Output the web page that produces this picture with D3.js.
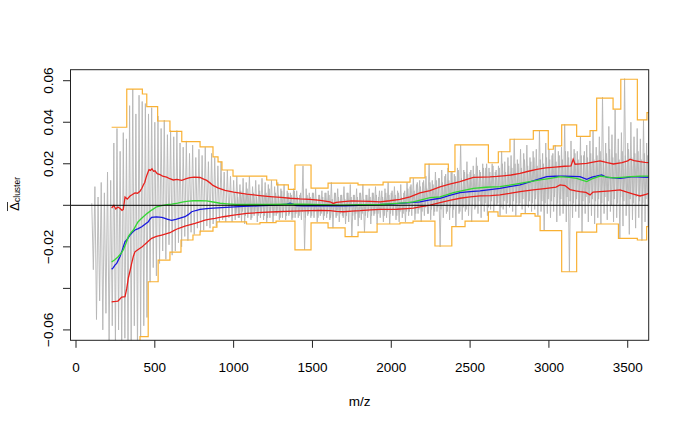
<!DOCTYPE html>
<html><head><meta charset="utf-8">
<script src="https://cdn.jsdelivr.net/npm/d3@7"></script>
<style>body{margin:0;background:#fff} text{font-family:"Liberation Sans",Arial,Helvetica,sans-serif;fill:#000}</style>
</head><body><svg id="c" width="685" height="428"></svg>
<script>
const xTicks=[0,500,1000,1500,2000,2500,3000,3500];
const xTickLabels=["0","500","1000","1500","2000","2500","3000","3500"];
const yTicks=[-0.06,-0.04,-0.02,0,0.02,0.04,0.06];
const yTickLabels=["\u22120.06","","\u22120.02","","0.02","0.04","0.06"];
const xTitle="m/z";
const yTitleMain="\u0394", yTitleSub="cluster";

// gray cluster series (spikes): sampled every 20 m/z from 100, high value at mz, low value at mz+10
const grayMz=d3.range(100,3641,20);
const grayHigh=[0.001,0.009,0.004,0.011,0.006,0.016,0.012,
0.030,0.037,0.026,0.035,0.032,
0.048,0.056,0.044,0.053,0.050,
0.049,
0.044,0.047,0.040,0.043,
0.037,0.041,0.034,0.036,
0.033,0.036,0.030,
0.028,0.031,0.025,0.029,0.023,0.027,
0.024,0.028,0.021,0.025,
0.023,0.019,0.021,0.016,0.017,0.014,
0.012,0.014,0.010,0.013,0.011,0.014,0.009,0.012,0.010,0.013,0.011,
0.010,0.012,0.009,0.011,
0.008,0.010,0.007,
0.006,0.008,
0.007,0.005,0.019,0.008,0.006,
0.006,0.008,0.005,0.007,0.006,
0.007,0.011,0.006,0.008,0.005,0.009,
0.006,0.010,0.005,0.008,
0.006,0.010,0.005,0.008,0.006,0.009,0.004,0.007,
0.008,0.011,0.006,0.009,0.007,0.010,0.006,0.011,
0.009,0.013,0.010,0.012,0.011,
0.014,0.020,0.012,0.016,0.013,0.017,0.014,0.018,
0.016,0.015,0.018,0.029,0.017,0.021,0.016,0.019,0.023,0.017,0.020,0.018,
0.018,0.020,0.016,0.019,0.026,0.021,0.023,
0.024,0.032,0.022,0.027,0.025,0.029,0.023,0.026,
0.027,0.036,0.025,0.030,
0.027,0.024,0.029,0.026,
0.028,0.039,0.026,0.031,0.027,
0.026,0.033,0.024,0.029,0.031,
0.036,0.028,
0.033,0.052,0.030,0.038,0.034,
0.046,0.032,
0.035,0.061,0.030,0.040,0.033,0.037,
0.032,0.041,0.030,0.045];
const grayLow=[-0.031,-0.055,-0.046,-0.060,-0.052,-0.066,-0.058,
-0.068,-0.060,-0.072,-0.064,-0.070,
-0.066,-0.058,-0.071,
-0.063,-0.058,-0.054,
-0.037,-0.030,-0.034,-0.028,
-0.022,-0.026,-0.019,-0.024,
-0.022,-0.018,-0.020,
-0.015,-0.017,-0.013,-0.014,-0.011,-0.013,
-0.012,-0.010,-0.011,-0.009,
-0.010,-0.008,-0.007,-0.008,-0.006,-0.008,
-0.007,-0.006,-0.008,-0.009,-0.006,-0.007,-0.005,-0.008,-0.006,-0.007,-0.008,
-0.006,-0.008,-0.005,-0.007,
-0.006,-0.007,-0.005,
-0.007,-0.006,
-0.006,-0.007,-0.0215,-0.005,-0.006,
-0.006,-0.008,-0.005,-0.007,-0.006,
-0.007,-0.011,-0.006,-0.008,-0.005,-0.009,
-0.008,-0.015,-0.007,-0.010,
-0.007,-0.013,-0.006,-0.009,-0.005,-0.009,-0.006,-0.008,
-0.006,-0.009,-0.005,-0.007,-0.008,-0.006,-0.008,-0.005,
-0.005,-0.007,-0.004,-0.008,-0.005,
-0.004,-0.007,-0.005,-0.003,-0.020,-0.006,-0.004,-0.007,
-0.006,-0.010,-0.004,-0.007,-0.003,-0.005,-0.008,-0.002,-0.004,-0.006,-0.003,-0.005,
-0.002,-0.003,0.000,-0.005,-0.002,-0.004,-0.001,
-0.003,-0.005,0.000,-0.002,-0.004,-0.001,-0.003,-0.002,
-0.005,-0.003,-0.012,-0.004,
-0.006,-0.003,-0.008,-0.005,
-0.004,-0.008,-0.032,-0.006,-0.003,
-0.006,-0.013,-0.004,-0.008,-0.005,
-0.009,-0.006,
-0.009,-0.004,-0.007,-0.003,-0.008,
-0.006,-0.016,
-0.010,-0.005,-0.014,-0.007,-0.011,-0.006,
-0.017,-0.008,-0.010,-0.006];

// gray cluster series (dense core): every 20 m/z from 1005, high at mz, low at mz+10
const grayCoreMz=d3.range(1005,3646,20);
const grayCoreHigh=[0.006,0.004,0.007,0.005,0.008,0.005,0.006,0.004,0.007,0.005,0.006,0.008,0.004,0.006,0.005,0.007,0.004,0.006,0.005,0.007,
0.004,0.006,0.003,0.005,0.004,0.006,0.003,0.005,0.004,0.006,0.005,0.003,0.006,0.004,0.005,0.003,0.006,0.004,0.005,0.004,0.006,0.003,0.005,0.004,0.006,
0.005,0.007,0.004,0.006,0.005,0.007,0.005,0.006,0.004,0.007,
0.008,0.010,0.007,0.011,0.009,0.012,0.008,0.011,0.010,0.012,
0.013,0.011,0.015,0.012,0.016,0.014,0.017,0.013,0.016,0.015,
0.017,0.015,0.019,0.016,0.018,0.020,0.016,0.019,0.017,0.018,0.020,0.016,0.019,0.018,0.020,
0.020,0.018,0.022,0.019,0.021,0.023,0.019,0.022,0.020,0.023,
0.022,0.025,0.021,0.024,0.022,0.026,0.023,0.021,0.025,0.022,0.024,0.026,0.023,0.025,0.022,
0.024,0.026,0.022,0.025,0.027,0.023,0.025,0.022,0.026,0.024,0.027,0.023,0.025,0.026,0.022,0.025,0.024,0.026];
const grayCoreLow=[-0.004,-0.006,-0.003,-0.005,-0.004,-0.006,-0.003,-0.005,-0.004,-0.005,-0.006,-0.003,-0.005,-0.004,-0.006,-0.003,-0.005,-0.004,-0.006,-0.004,
-0.005,-0.003,-0.006,-0.004,-0.005,-0.003,-0.006,-0.004,-0.005,-0.004,-0.006,-0.003,-0.005,-0.004,-0.006,-0.005,-0.003,-0.005,-0.004,-0.006,-0.004,-0.005,-0.003,-0.005,-0.004,
-0.004,-0.002,-0.005,-0.003,-0.004,-0.002,-0.005,-0.003,-0.004,-0.003,
-0.003,-0.001,-0.004,-0.002,-0.003,-0.001,-0.004,-0.002,-0.003,-0.001,
-0.002,0.000,-0.003,-0.001,-0.002,0.000,-0.003,-0.001,-0.002,0.000,
0.000,-0.001,0.002,0.000,0.001,-0.001,0.002,0.000,0.001,-0.001,0.002,0.001,0.000,0.002,0.001,
0.001,0.003,0.000,0.002,0.001,0.003,0.000,0.002,0.001,0.003,
0.002,0.004,0.001,0.003,0.000,0.004,0.002,0.001,0.003,0.000,0.002,0.004,0.001,0.003,0.002,
0.003,0.001,0.004,0.002,0.000,0.003,0.001,0.004,0.002,0.000,0.003,0.001,0.004,0.002,0.001,0.003,0.000,0.002];

// orange window envelopes (step functions: [start m/z, value])
const orangeUpper=[[226,0.0376],[322,0.0559],[421,0.0536],[449,0.0475],[518,0.0406],[596,0.0356],[671,0.0307],[787,0.0281],[869,0.0233],[901,0.0209],[926,0.0170],[996,0.0141],[1210,0.0122],[1273,0.0098],[1347,0.0077],[1389,0.0194],[1491,0.0083],[1599,0.0107],[1789,0.0098],[1948,0.0112],[2119,0.0132],[2214,0.0198],[2362,0.0162],[2404,0.0291],[2616,0.0205],[2679,0.0258],[2753,0.0318],[2901,0.0360],[2996,0.0270],[3028,0.0286],[3081,0.0387],[3176,0.0332],[3261,0.0360],[3303,0.0516],[3407,0.0463],[3456,0.0607],[3561,0.0411],[3622,0.0446],[3660,0.0446]];
const orangeLower=[[226,-0.080],[406,-0.0632],[458,-0.0368],[521,-0.0264],[596,-0.0225],[666,-0.0167],[742,-0.0143],[787,-0.0124],[869,-0.0105],[894,-0.0080],[1082,-0.0090],[1167,-0.0083],[1269,-0.0076],[1389,-0.0215],[1491,-0.0085],[1599,-0.0109],[1707,-0.0151],[1789,-0.0129],[1910,-0.0090],[2055,-0.0085],[2138,-0.0076],[2277,-0.0196],[2384,-0.0103],[2468,-0.0076],[2616,-0.0032],[2677,-0.0052],[2823,-0.0040],[2912,-0.0052],[2944,-0.0122],[3081,-0.0320],[3176,-0.0129],[3303,-0.0090],[3441,-0.0159],[3561,-0.0167],[3620,-0.0103],[3660,-0.0103]];

const redUpper=[[226,-0.0013],[240,0.0000],[252,-0.0018],[266,-0.0008],[280,-0.0015],[292,-0.0024],[300,-0.0020],[311,0.0040],[325,0.0030],[343,0.0045],[358,0.0052],[374,0.0060],[390,0.0058],[406,0.0068],[418,0.0082],[427,0.0098],[436,0.0110],[444,0.0132],[452,0.0150],[463,0.0172],[472,0.0168],[482,0.0176],[492,0.0164],[501,0.0166],[515,0.0152],[533,0.0148],[550,0.0140],[575,0.0136],[595,0.0128],[617,0.0122],[640,0.0125],[671,0.0120],[700,0.0128],[723,0.0133],[750,0.0136],[787,0.0134],[810,0.0126],[829,0.0120],[850,0.0108],[869,0.0096],[900,0.0084],[945,0.0072],[1000,0.0064],[1083,0.0054],[1150,0.0048],[1231,0.0042],[1300,0.0038],[1358,0.0034],[1420,0.0031],[1484,0.0029],[1550,0.0024],[1611,0.0017],[1632,0.0009],[1650,0.0014],[1696,0.0018],[1750,0.0021],[1802,0.0020],[1870,0.0019],[1929,0.0017],[1990,0.0022],[2055,0.0029],[2119,0.0041],[2182,0.0060],[2246,0.0071],[2309,0.0089],[2370,0.0102],[2436,0.0114],[2480,0.0125],[2521,0.0135],[2580,0.0136],[2626,0.0137],[2670,0.0139],[2711,0.0142],[2760,0.0146],[2817,0.0154],[2870,0.0164],[2923,0.0173],[2980,0.0180],[3039,0.0184],[3100,0.0188],[3140,0.0190],[3154,0.0222],[3166,0.0198],[3200,0.0200],[3240,0.0202],[3280,0.0208],[3324,0.0214],[3370,0.0205],[3409,0.0199],[3464,0.0206],[3500,0.0214],[3515,0.0222],[3540,0.0215],[3578,0.0210],[3610,0.0207],[3640,0.0205]];
const redLower=[[226,-0.0465],[250,-0.0463],[266,-0.0461],[280,-0.0450],[290,-0.0442],[311,-0.0440],[322,-0.0400],[332,-0.0350],[343,-0.0315],[353,-0.0280],[364,-0.0245],[374,-0.0224],[390,-0.0215],[406,-0.0207],[420,-0.0200],[438,-0.0187],[460,-0.0172],[480,-0.0159],[510,-0.0150],[544,-0.0143],[570,-0.0138],[596,-0.0132],[620,-0.0122],[641,-0.0114],[665,-0.0107],[691,-0.0100],[720,-0.0094],[755,-0.0087],[790,-0.0079],[818,-0.0071],[850,-0.0067],[882,-0.0063],[934,-0.0055],[1000,-0.0047],[1083,-0.0039],[1180,-0.0034],[1273,-0.0031],[1380,-0.0028],[1484,-0.0026],[1550,-0.0025],[1611,-0.0026],[1650,-0.0029],[1696,-0.0031],[1750,-0.0028],[1802,-0.0026],[1870,-0.0022],[1929,-0.0020],[2035,-0.0019],[2100,-0.0016],[2140,-0.0014],[2182,-0.0007],[2246,0.0001],[2309,0.0013],[2370,0.0024],[2436,0.0034],[2500,0.0041],[2563,0.0045],[2630,0.0047],[2690,0.0050],[2750,0.0057],[2817,0.0066],[2900,0.0074],[2986,0.0082],[3045,0.0088],[3071,0.0098],[3102,0.0095],[3134,0.0076],[3170,0.0070],[3197,0.0066],[3235,0.0062],[3261,0.0050],[3280,0.0064],[3324,0.0066],[3390,0.0070],[3451,0.0074],[3500,0.0062],[3536,0.0054],[3578,0.0045],[3610,0.0052],[3640,0.0059]];
const blueMean=[[226,-0.0308],[237,-0.0300],[247,-0.0288],[258,-0.0280],[268,-0.0264],[280,-0.0245],[290,-0.0224],[300,-0.0200],[311,-0.0175],[320,-0.0168],[330,-0.0158],[343,-0.0143],[358,-0.0130],[374,-0.0119],[395,-0.0112],[417,-0.0103],[440,-0.0090],[459,-0.0079],[470,-0.0066],[480,-0.0058],[510,-0.0056],[544,-0.0058],[560,-0.0062],[577,-0.0066],[595,-0.0070],[607,-0.0072],[620,-0.0070],[634,-0.0068],[660,-0.0062],[691,-0.0055],[712,-0.0045],[734,-0.0031],[760,-0.0025],[787,-0.0020],[830,-0.0016],[871,-0.0014],[950,-0.0010],[1062,-0.0005],[1150,-0.0003],[1231,0.0000],[1300,0.0003],[1337,0.0006],[1358,0.0010],[1380,0.0004],[1396,-0.0001],[1442,-0.0003],[1500,-0.0002],[1548,-0.0001],[1620,-0.0002],[1696,-0.0003],[1760,-0.0001],[1823,0.0001],[1900,0.0003],[1992,0.0006],[2055,0.0009],[2119,0.0013],[2182,0.0017],[2246,0.0026],[2309,0.0034],[2370,0.0048],[2436,0.0061],[2500,0.0066],[2563,0.0070],[2626,0.0076],[2690,0.0082],[2750,0.0090],[2817,0.0098],[2900,0.0118],[2986,0.0138],[3040,0.0140],[3091,0.0141],[3150,0.0139],[3197,0.0138],[3240,0.0125],[3273,0.0136],[3300,0.0140],[3335,0.0146],[3369,0.0134],[3410,0.0132],[3451,0.0130],[3500,0.0135],[3536,0.0138],[3590,0.0136],[3640,0.0135]];
const greenMedian=[[226,-0.0273],[246,-0.0262],[266,-0.0249],[285,-0.0232],[300,-0.0215],[316,-0.0185],[332,-0.0151],[348,-0.0133],[364,-0.0119],[378,-0.0100],[393,-0.0080],[410,-0.0067],[427,-0.0055],[450,-0.0040],[480,-0.0023],[512,-0.0007],[544,-0.0001],[575,0.0003],[607,0.0006],[645,0.0011],[681,0.0017],[715,0.0020],[745,0.0022],[790,0.0022],[829,0.0021],[870,0.0016],[914,0.0010],[960,0.0007],[1019,0.0004],[1120,0.0004],[1231,0.0004],[1340,0.0005],[1442,0.0006],[1560,0.0003],[1675,0.0001],[1800,0.0003],[1929,0.0004],[2035,0.0009],[2100,0.0013],[2140,0.0017],[2203,0.0029],[2246,0.0037],[2309,0.0041],[2350,0.0050],[2394,0.0061],[2460,0.0072],[2521,0.0082],[2600,0.0087],[2690,0.0090],[2750,0.0097],[2817,0.0106],[2880,0.0114],[2944,0.0122],[3010,0.0130],[3071,0.0138],[3130,0.0135],[3176,0.0130],[3215,0.0120],[3240,0.0114],[3273,0.0127],[3324,0.0141],[3370,0.0136],[3407,0.0132],[3460,0.0135],[3520,0.0138],[3578,0.0141],[3640,0.0141]];

const L=70.5,R=648.7,T=69.7,B=340.3;
const x=d3.scaleLinear().domain([-34.9,3633]).range([L,R]);
const y=d3.scaleLinear().domain([-0.065,0.0653]).range([B,T]);
const svg=d3.select("#c");
svg.append("rect").attr("width",685).attr("height",428).attr("fill","#fff");
svg.append("clipPath").attr("id","clip").append("rect").attr("x",L).attr("y",T).attr("width",R-L).attr("height",B-T);
const plot=svg.append("g").attr("clip-path","url(#clip)");
const line=d3.line().x(d=>x(d[0])).y(d=>y(d[1]));
const step=d3.line().x(d=>x(d[0])).y(d=>y(d[1])).curve(d3.curveStepAfter);

const grayPts=[];
grayMz.forEach((m,i)=>{grayPts.push([m,grayHigh[i]]);grayPts.push([m+10,grayLow[i]]);});
const corePts=[];
grayCoreMz.forEach((m,i)=>{corePts.push([m,grayCoreHigh[i]]);corePts.push([m+10,grayCoreLow[i]]);});
plot.append("path").attr("d",line(corePts)).attr("fill","none").attr("stroke","#b4b4b4").attr("stroke-width",0.9);
plot.append("path").attr("d",line(grayPts)).attr("fill","none").attr("stroke","#b6b6b6").attr("stroke-width",0.9);
plot.append("path").attr("d",step(orangeUpper)).attr("fill","none").attr("stroke","#f9b133").attr("stroke-width",1.2);
plot.append("path").attr("d",step(orangeLower)).attr("fill","none").attr("stroke","#f9b133").attr("stroke-width",1.2);
plot.append("path").attr("d",line(redUpper)).attr("fill","none").attr("stroke","#e8201c").attr("stroke-width",1.3);
plot.append("path").attr("d",line(redLower)).attr("fill","none").attr("stroke","#e8201c").attr("stroke-width",1.3);
plot.append("path").attr("d",line(blueMean)).attr("fill","none").attr("stroke","#1818e0").attr("stroke-width",1.3);
plot.append("path").attr("d",line(greenMedian)).attr("fill","none").attr("stroke","#33d633").attr("stroke-width",1.3);
plot.append("line").attr("x1",L).attr("x2",R).attr("y1",y(0)).attr("y2",y(0)).attr("stroke","#000").attr("stroke-width",1);

// frame
svg.append("rect").attr("x",L).attr("y",T).attr("width",R-L).attr("height",B-T).attr("fill","none").attr("stroke","#222").attr("stroke-width",1);

// y axis
const ya=svg.append("g");
yTicks.forEach((t,i)=>{
  ya.append("line").attr("x1",L-7.5).attr("x2",L).attr("y1",y(t)).attr("y2",y(t)).attr("stroke","#222");
  if(yTickLabels[i]) ya.append("text").attr("transform",`translate(53,${y(t)}) rotate(-90)`).attr("text-anchor","middle").attr("font-size",13.5).text(yTickLabels[i]);
});
// x axis
const xa=svg.append("g");
xTicks.forEach((t,i)=>{
  xa.append("line").attr("x1",x(t)).attr("x2",x(t)).attr("y1",B).attr("y2",B+7.5).attr("stroke","#222");
  xa.append("text").attr("x",x(t)).attr("y",372).attr("text-anchor","middle").attr("font-size",13.5).text(xTickLabels[i]);
});
svg.append("text").attr("x",(L+R)/2).attr("y",405.5).attr("text-anchor","middle").attr("font-size",13.5).text(xTitle);

// y title with overline and subscript
const yt=svg.append("g").attr("transform","translate(18.5,194) rotate(-90)");
const tt=yt.append("text").attr("text-anchor","middle");
tt.append("tspan").attr("font-size",13.5).text(yTitleMain);
tt.append("tspan").attr("font-size",8.5).attr("dy",1.5).text(yTitleSub);
const n=tt.node();
const sx=n.getStartPositionOfChar(0).x, w=n.getSubStringLength(0,1);
yt.append("line").attr("x1",sx).attr("x2",sx+w).attr("y1",-11).attr("y2",-11).attr("stroke","#000").attr("stroke-width",0.8);
</script></body></html>
